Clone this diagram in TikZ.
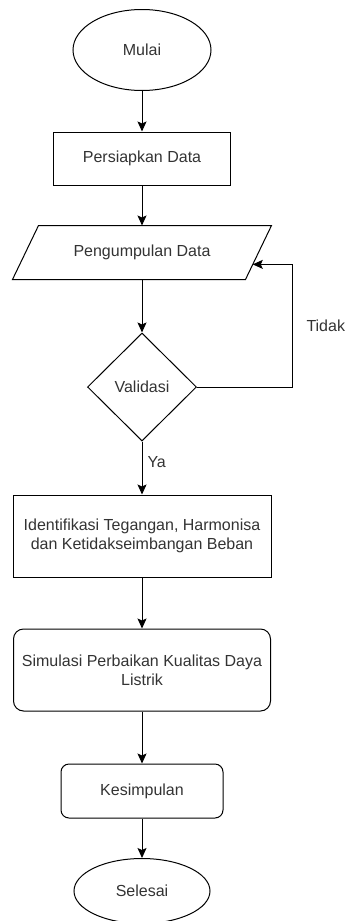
\documentclass[tikz,border=0pt]{standalone}
\usepackage{fontspec}
\setmainfont{Liberation Sans}
\usetikzlibrary{shapes.geometric, arrows.meta, calc}

\begin{document}
\begin{tikzpicture}[x=1pt, y=-1pt, font=\fontsize{16}{19}\selectfont,
    every node/.style={inner sep=0pt, text=black!80, line width=1pt},
    arr/.style={line width=1pt, -{Stealth[length=10pt, width=9pt, inset=2pt]}}]
    \useasboundingbox (0, 0) rectangle (347, 921);

    % Start
    \node [draw, ellipse, minimum width=138, minimum height=81] (mulai) at (142, 50) {Mulai};

    % Steps
    \node [draw, minimum width=177, minimum height=53] (prep) at (142, 158.5) {Persiapkan Data};
    \node [minimum width=232, minimum height=53] (data) at (142, 252.5) {Pengumpulan Data};
    \draw [line width=1pt] ([xshift=13]data.north west) -- ([xshift=13]data.north east)
        -- ([xshift=-13]data.south east) -- ([xshift=-13]data.south west) -- cycle;
    \node [draw, diamond, minimum width=109, minimum height=108] (val) at (142, 387) {Validasi};
    \node [draw, minimum width=258, minimum height=82, align=center] (ident) at (142, 536)
          {Identifikasi Tegangan, Harmonisa\\dan Ketidakseimbangan Beban};
    \node [draw, rounded corners=10, minimum width=257, minimum height=82, align=center] (sim) at (142, 670)
          {Simulasi Perbaikan Kualitas Daya\\Listrik};
    \node [draw, rounded corners=8, minimum width=162, minimum height=54] (kes) at (142, 791) {Kesimpulan};

    % End
    \node [draw, ellipse, minimum width=136, minimum height=65] (sel) at (142, 891) {Selesai};

    % Connections
    \foreach \a/\b in {mulai/prep, prep/data, data/val, ident/sim, sim/kes, kes/sel} {
        \draw [arr] (\a) -- (\b);
    }
    \draw [arr] (val) -- node [pos=0.39, right=5pt] (ya) {Ya} (ident);

    % Back to data collection
    \coordinate (in) at ($([xshift=13]data.north east)!0.72!([xshift=-13]data.south east)$);
    \coordinate (loop) at (292, 0);
    \draw [arr] (val.east) -| node [pos=0.75, right=14pt] (tidak) {Tidak} (in -| loop) -- (in);
\end{tikzpicture}
\end{document}
